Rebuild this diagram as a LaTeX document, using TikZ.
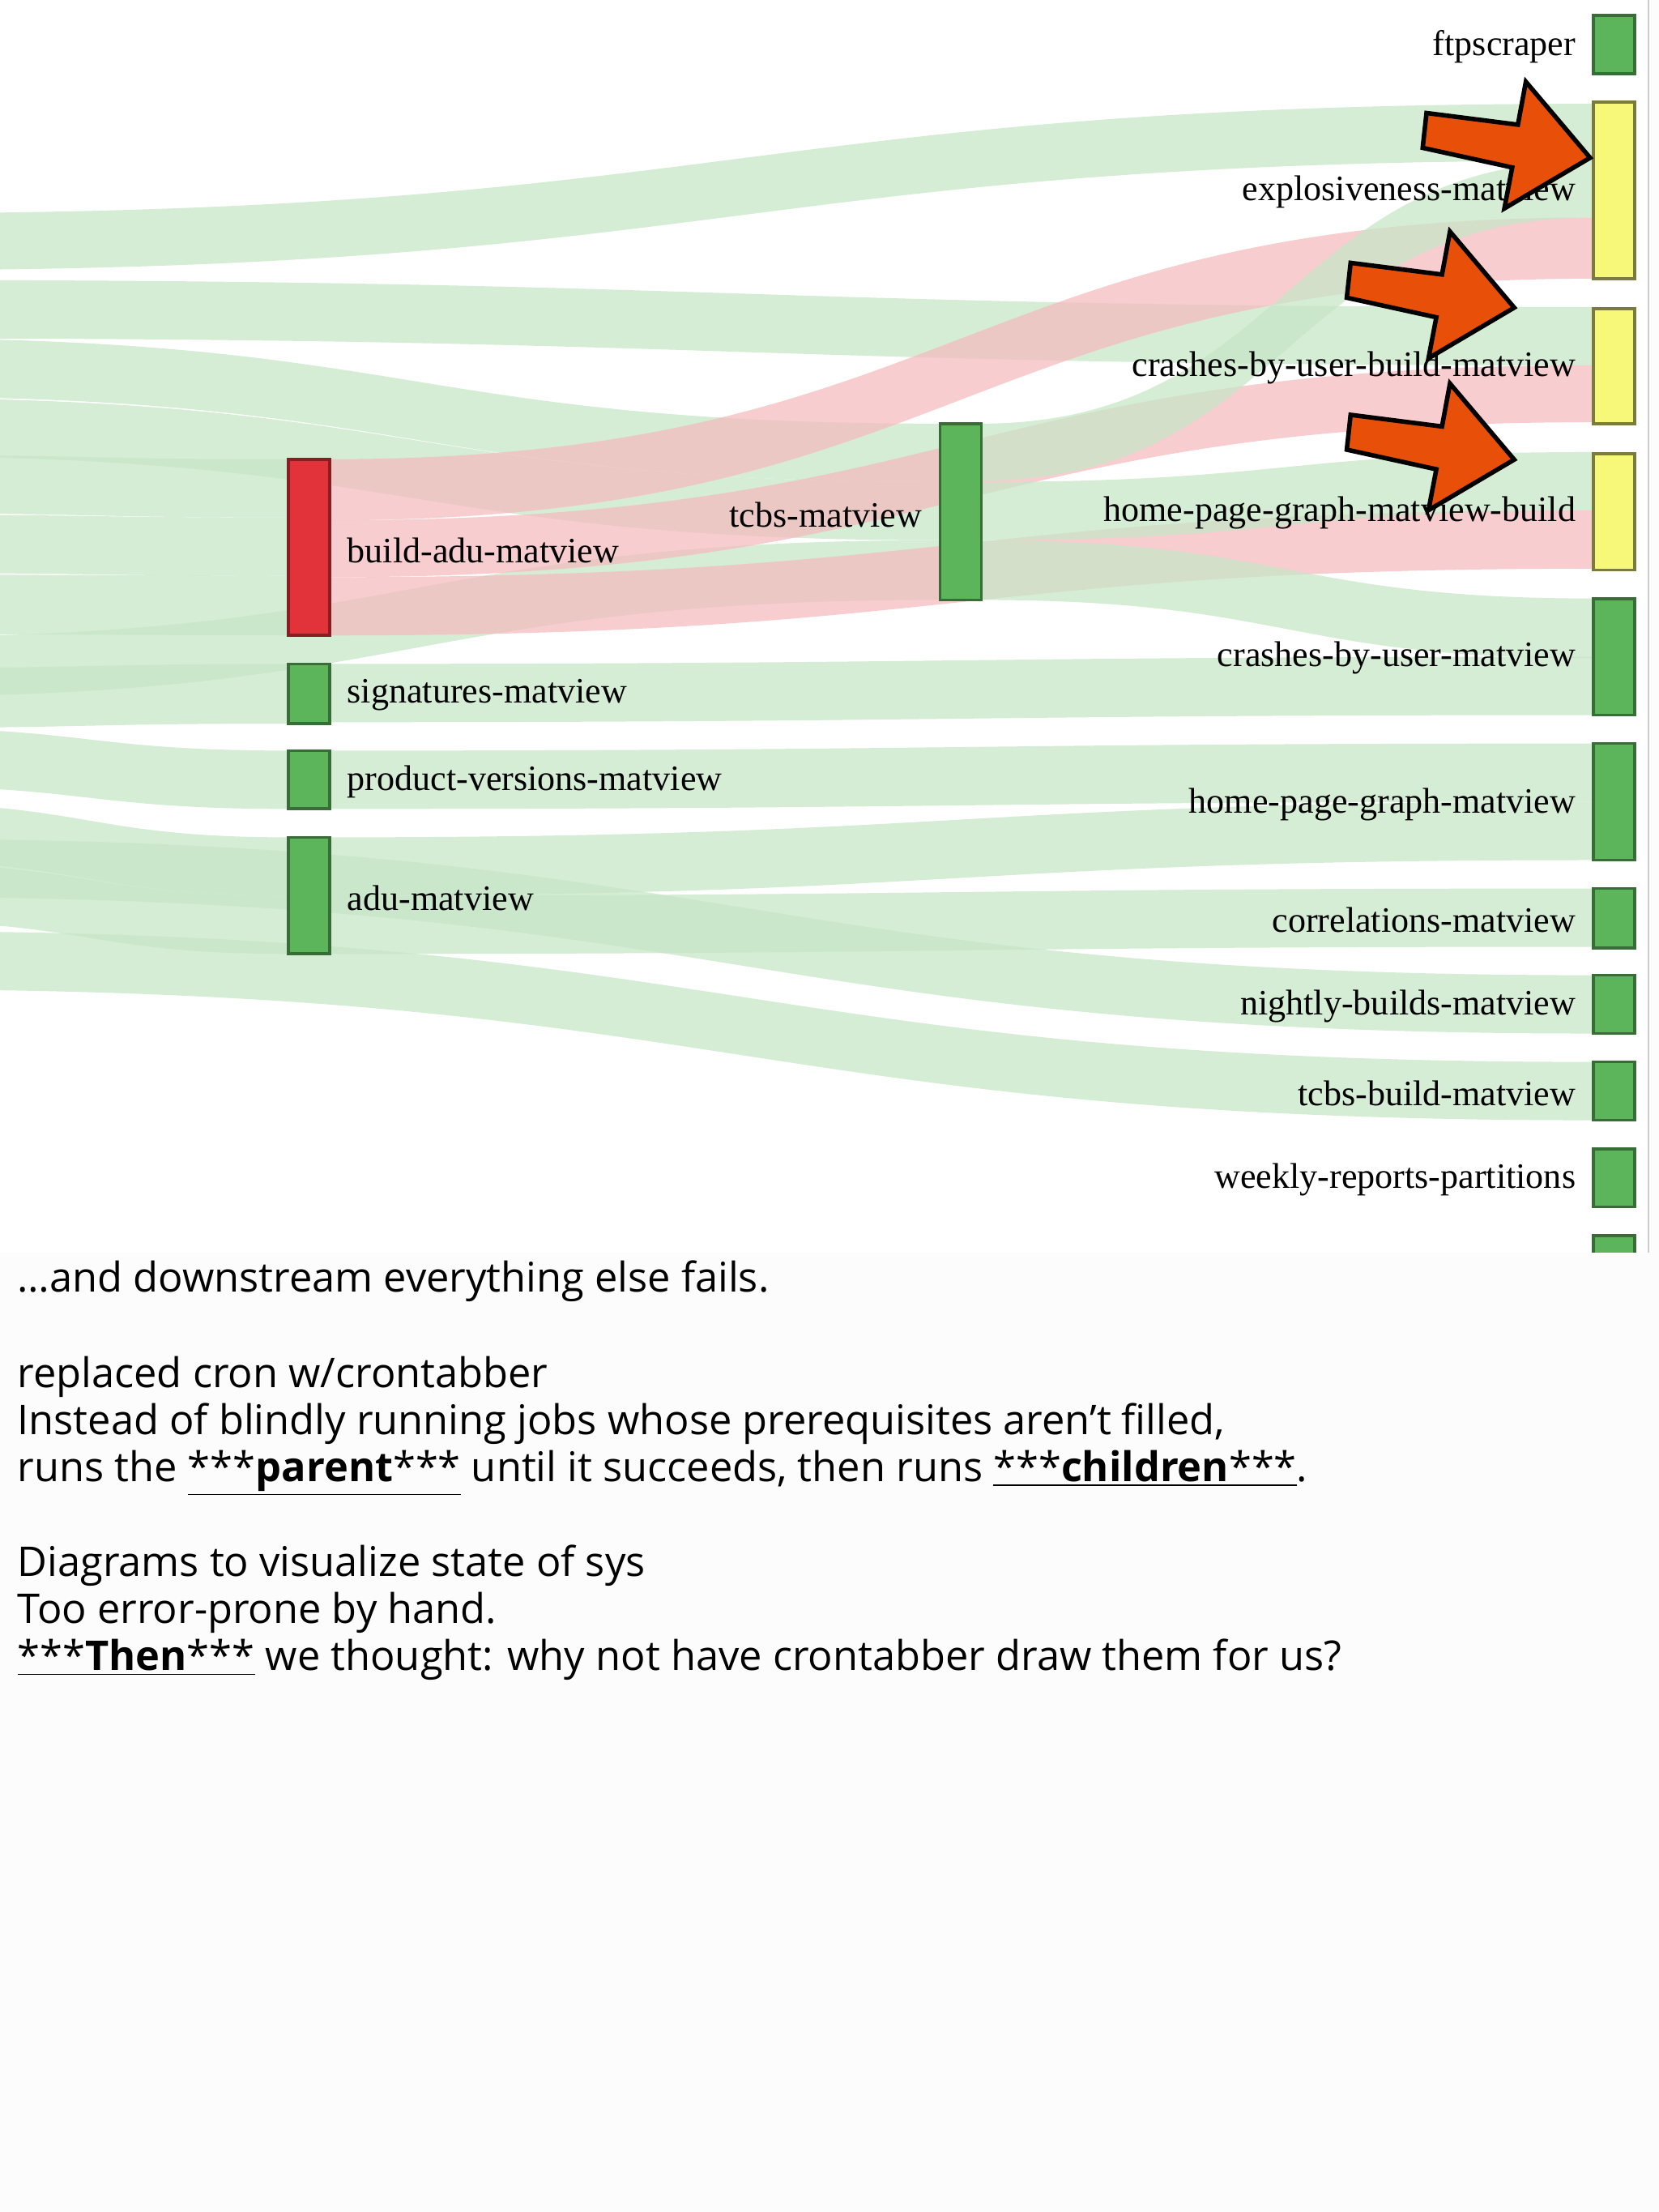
\documentclass[tikz,border=0pt]{standalone}
\usepackage{fontspec}
\setmainfont{Liberation Serif}
\newfontfamily\slidefont{Open Sans}
\begin{document}
\begin{tikzpicture}[x=0.02cm,y=-0.02cm,
  gbar/.style={fill=barg,draw=barg!60!black,line width=1.2pt,inner sep=0,minimum width=0.58cm},
  rbar/.style={fill=barr,draw=barr!60!black,line width=1.2pt,inner sep=0,minimum width=0.58cm},
  ybar/.style={fill=bary,draw=bary!50!black,line width=1.2pt,inner sep=0,minimum width=0.58cm},
  gflow/.style={fill=flowg,fill opacity=0.75},
  rflow/.style={fill=flowr,fill opacity=0.75},
  lbl/.style={font=\fontsize{14.3}{16}\selectfont,inner sep=0},
  txt/.style={font=\slidefont\fontsize{16.4}{19}\selectfont,anchor=base west,inner sep=0},
  bigarrow/.style={fill=arr,draw=black,line width=1.8pt,line join=miter}]
\definecolor{barg}{HTML}{5DB55B}
\definecolor{barr}{HTML}{E2323A}
\definecolor{bary}{HTML}{F7F77A}
\definecolor{flowg}{HTML}{C8E6C8}
\definecolor{flowr}{HTML}{F5BDBF}
\definecolor{arr}{HTML}{E8500A}
\definecolor{slidebg}{HTML}{FCFCFC}
\useasboundingbox (0,0) rectangle (1167,1556);
\fill[slidebg] (0,0) rectangle (1167,1556);
\fill[white] (0,0) rectangle (1160,881);
\draw[gray!40,line width=0.6pt] (1160,0) -- (1160,881);
\newcommand{\flow}[6]{\fill[#6] (#1,#2) .. controls ({(#1+#3)/2},#2) and ({(#1+#3)/2},#4) .. (#3,#4) -- (#3,{#4+#5}) .. controls ({(#1+#3)/2},{#4+#5}) and ({(#1+#3)/2},{#2+#5}) .. (#1,{#2+#5}) -- cycle;}
\newcommand{\mybar}[5]{\node[#2,minimum height={#5*0.02cm}] (#1) at (#3,{#4+#5/2}) {};}
\begin{scope}
\clip (0,0) rectangle (1160,881);
% flows from the left edge
\flow{-80}{150}{1121}{73}{40}{gflow}
\flow{-80}{197}{1121}{216}{41}{gflow}
\flow{-80}{238}{662}{298}{41}{gflow}
\flow{-80}{280}{662}{339}{41}{gflow}
\flow{-80}{320}{203}{323}{41}{gflow}
\flow{-80}{362}{203}{364}{41}{gflow}
\flow{-80}{404}{203}{405}{42}{gflow}
\flow{-80}{448}{662}{380}{42}{gflow}
\flow{-80}{470}{203}{467}{42}{gflow}
\flow{-80}{512}{203}{528}{41}{gflow}
\flow{-80}{565}{203}{589}{41}{gflow}
\flow{-80}{607}{203}{630}{41}{gflow}
\flow{-80}{590}{1121}{686}{41}{gflow}
\flow{-80}{655}{1121}{747}{41}{gflow}
% from build-adu-matview
\flow{232}{323}{1121}{153}{43}{rflow}
\flow{232}{366}{1121}{257}{40}{rflow}
\flow{232}{406}{1121}{359}{41}{rflow}
% from tcbs-matview
\flow{690}{298}{1121}{113}{40}{gflow}
\flow{690}{339}{1121}{318}{41}{gflow}
\flow{690}{380}{1121}{421}{42}{gflow}
% lower column
\flow{232}{467}{1121}{462}{41}{gflow}
\flow{232}{528}{1121}{523}{41}{gflow}
\flow{232}{589}{1121}{564}{41}{gflow}
\flow{232}{630}{1121}{625}{41}{gflow}
% bars
\mybar{build}{rbar}{217.5}{323}{124}
\mybar{sig}{gbar}{217.5}{467}{42}
\mybar{prod}{gbar}{217.5}{528}{41}
\mybar{adu}{gbar}{217.5}{589}{82}
\mybar{tcbs}{gbar}{676}{298}{124}
\mybar{ftp}{gbar}{1135.5}{11}{41}
\mybar{expl}{ybar}{1135.5}{72}{124}
\mybar{cbub}{ybar}{1135.5}{217}{81}
\mybar{hpgb}{ybar}{1135.5}{319}{82}
\mybar{cbu}{gbar}{1135.5}{421}{82}
\mybar{hpg}{gbar}{1135.5}{523}{82}
\mybar{corr}{gbar}{1135.5}{625}{42}
\mybar{nightly}{gbar}{1135.5}{686}{41}
\mybar{tcbsb}{gbar}{1135.5}{747}{41}
\mybar{weekly}{gbar}{1135.5}{808}{41}
\mybar{cut}{gbar}{1135.5}{869}{41}
% labels
\node[lbl,anchor=west] (lbuild) at (244,387) {build-adu-matview};
\node[lbl,anchor=west] (lsig) at (244,489) {signatures-matview};
\node[lbl,anchor=west] (lprod) at (244,550) {product-versions-matview};
\node[lbl,anchor=west] (ladu) at (244,632) {adu-matview};
\node[lbl,anchor=east] (ltcbs) at (649,362) {tcbs-matview};
\node[lbl,anchor=east] (lftp) at (1109,33) {ftpscraper};
\node[lbl,anchor=east] (lexpl) at (1109,135) {explosiveness-matview};
\node[lbl,anchor=east] (lcbub) at (1109,259) {crashes-by-user-build-matview};
\node[lbl,anchor=east] (lhpgb) at (1109,361) {home-page-graph-matview-build};
\node[lbl,anchor=east] (lcbu) at (1109,463) {crashes-by-user-matview};
\node[lbl,anchor=east] (lhpg) at (1109,566) {home-page-graph-matview};
\node[lbl,anchor=east] (lcorr) at (1109,647) {correlations-matview};
\node[lbl,anchor=east] (lnightly) at (1109,708) {nightly-builds-matview};
\node[lbl,anchor=east] (ltcbsb) at (1109,769) {tcbs-build-matview};
\node[lbl,anchor=east] (lweekly) at (1109,830) {weekly-reports-partitions};
% arrows
\newcommand{\orangearrow}[2]{\draw[bigarrow,shift={(#1,#2)}] (1003.7,79.5) -- (1068,87.7) -- (1073.6,57.5) -- (1118.8,111) -- (1058.5,146.6) -- (1064,117.8) -- (1001,104) -- cycle;}
\orangearrow{0}{0}
\orangearrow{-53.4}{105.4}
\orangearrow{-53.4}{212.3}
\end{scope}
% slide text
\node[txt] (t1) at (12,909) {\ldots and downstream everything else fails.};
\node[txt] (t2) at (12,976) {replaced cron w/crontabber};
\node[txt] (t3) at (12,1009) {Instead of blindly running jobs whose prerequisites aren’t filled,};
\node[txt] (t4) at (12,1042) {runs the \underline{***\textbf{parent}***} until it succeeds, then runs \underline{***\textbf{children}***}.};
\node[txt] (t5) at (12,1109) {Diagrams to visualize state of sys};
\node[txt] (t6) at (12,1142) {Too error-prone by hand.};
\node[txt] (t7) at (12,1175) {\underline{***\textbf{Then}***} we thought: why not have crontabber draw them for us?};
\end{tikzpicture}
\end{document}
